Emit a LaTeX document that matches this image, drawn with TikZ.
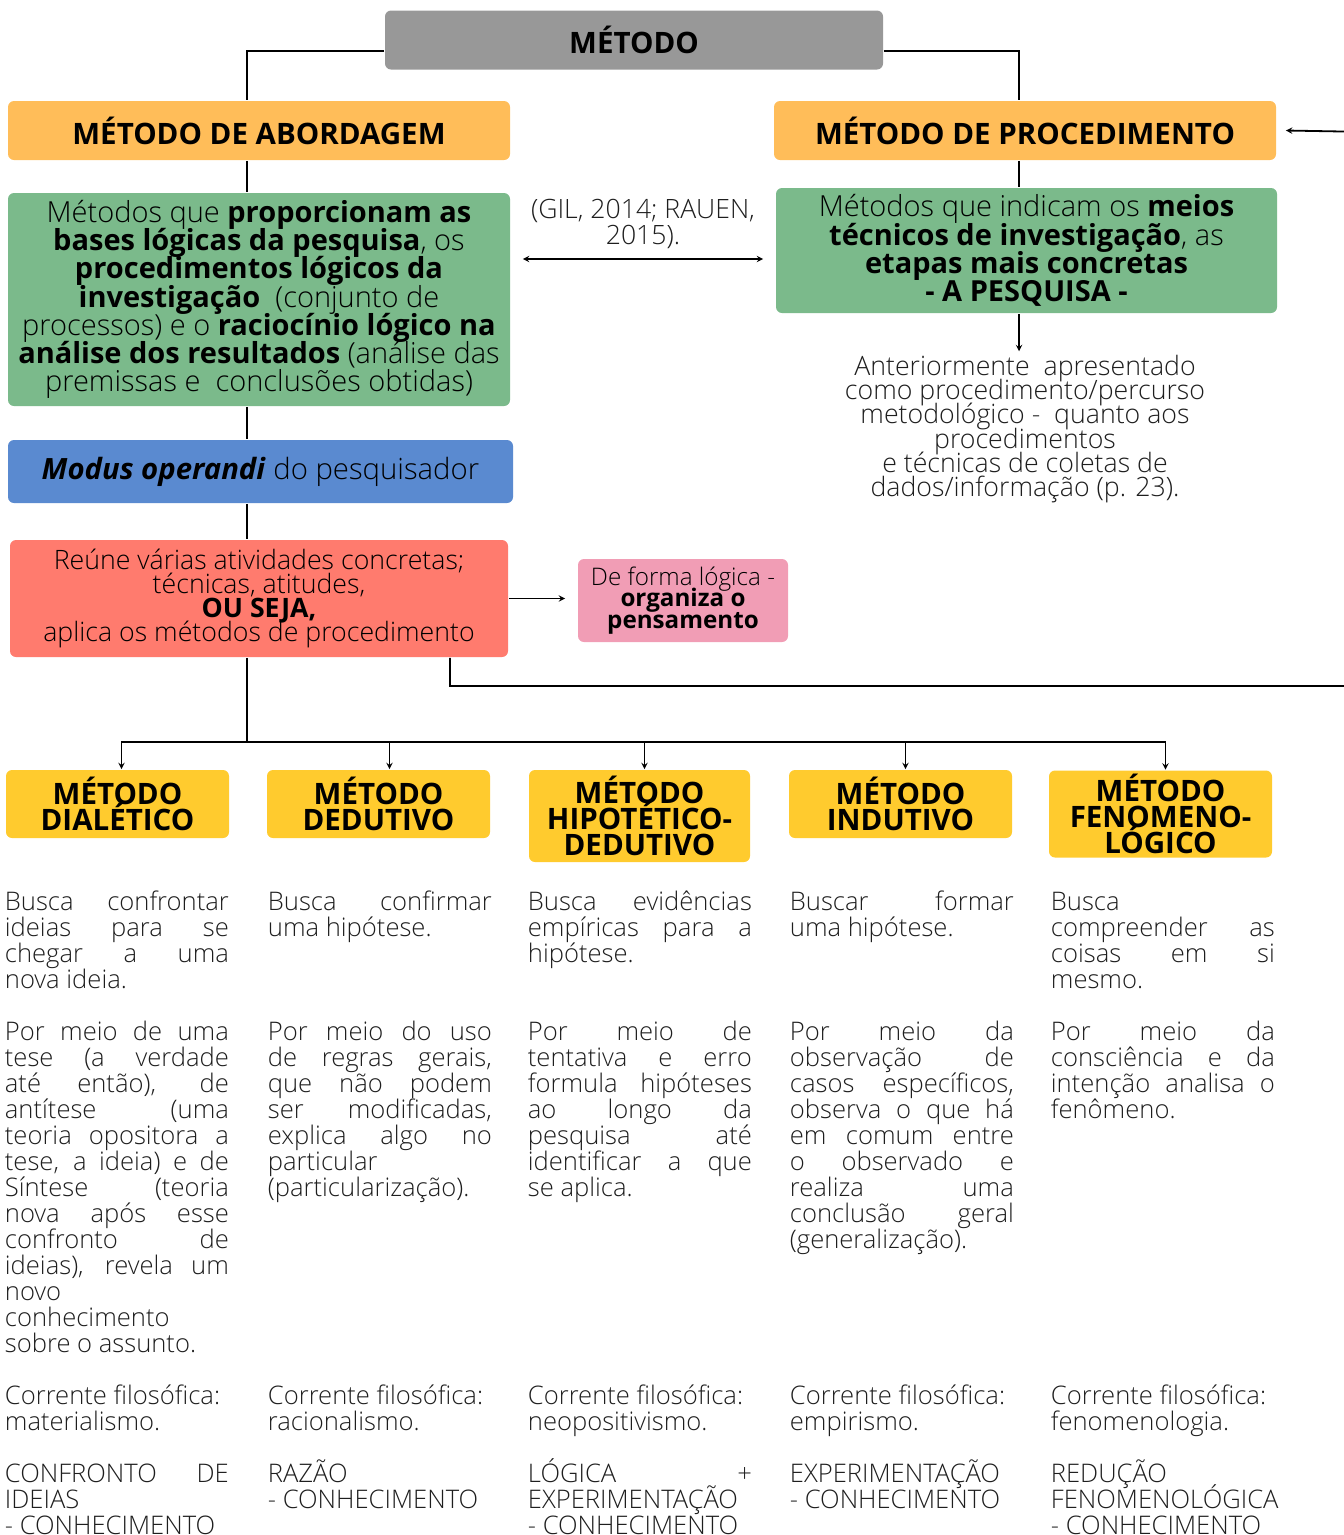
\documentclass[tikz,border=0pt]{standalone}
\usepackage{fontspec}
\IfFontExistsTF{Open Sans Light}{%
  \setmainfont{Open Sans Light}[BoldFont=Open Sans Bold,
    ItalicFont=Open Sans Light Italic, BoldItalicFont=Open Sans Bold Italic]}{%
  \setmainfont{Open Sans}}
\definecolor{cinza}{HTML}{989898}
\definecolor{laranja}{HTML}{FFBD59}
\definecolor{verde}{HTML}{7BBA8B}
\definecolor{azul}{HTML}{5A8AD0}
\definecolor{salmao}{HTML}{FF7B6E}
\definecolor{rosa}{HTML}{F19DB5}
\definecolor{amarelo}{HTML}{FFCB2E}
\definecolor{texto}{HTML}{1E1E1E}
\hyphenpenalty=10000\relax
\exhyphenpenalty=10000\relax
\tolerance=10000\relax
\lineskiplimit=-100pt\relax
\normallineskiplimit=-100pt\relax

\begin{document}
\begin{tikzpicture}[>=stealth, x=1pt, y=-1pt, line width=1.8pt,
  caixa/.style={rounded corners=6pt, inner sep=0pt, align=center, text=black},
  titulo/.style={font=\fontsize{29.5}{26}\selectfont\bfseries},
  coluna/.style={anchor=base west, text width=224pt, align=justify, inner sep=0pt, text=texto,
    font=\fontsize{25.6}{26}\selectfont}]
\useasboundingbox (0,0) rectangle (1344,1535);

% --- Topo ---
\node[caixa, fill=cinza, minimum width=498pt, minimum height=59pt, titulo] (met) at (634,40) {MÉTODO};
\node[caixa, fill=laranja, minimum width=502pt, minimum height=59pt, titulo] (abord) at (259,130.5) {MÉTODO DE ABORDAGEM};
\node[caixa, fill=laranja, minimum width=502pt, minimum height=59pt, titulo] (proc) at (1025,130.5) {MÉTODO DE PROCEDIMENTO};

\coordinate (trunk) at (247,0);
\coordinate (ptrunk) at (1019,0);
\draw ([yshift=-11pt]met.west) -| (abord.north -| trunk);
\draw ([yshift=-11pt]met.east) -| (proc.north -| ptrunk);

% --- Abordagem ---
\node[caixa, fill=verde, minimum width=502pt, minimum height=213pt, font=\fontsize{29}{28.2}\selectfont] (abtxt) at (259,299.5)
  {Métodos que \textbf{proporcionam as}\\
   \textbf{bases lógicas da pesquisa}, os\\
   \textbf{procedimentos lógicos da}\\
   \textbf{investigação}\ \ (conjunto de\\
   processos) e o \textbf{raciocínio lógico na}\\
   \textbf{análise dos resultados} (análise das\\
   premissas e\ \ conclusões obtidas)};
\node[caixa, fill=azul, minimum width=505pt, minimum height=63pt, font=\fontsize{29.3}{30}\selectfont] (modus) at (260.5,471.5)
  {\textbf{\textit{Modus operandi}} do pesquisador};
\node[caixa, fill=salmao, minimum width=498pt, minimum height=117pt, font=\fontsize{26.7}{24.2}\selectfont] (reune) at (259,598.5)
  {Reúne várias atividades concretas;\\ técnicas, atitudes,\\ \textbf{OU SEJA,}\\ aplica os métodos de procedimento};
\node[caixa, fill=rosa, minimum width=210pt, minimum height=83pt, font=\fontsize{24.2}{21.5}\selectfont] (logica) at (683,600.5)
  {De forma lógica -\\ \textbf{organiza o}\\ \textbf{pensamento}};

\draw (abord.south -| trunk) -- (abtxt.north -| trunk);
\draw (abtxt.south -| trunk) -- (modus.north -| trunk);
\draw (modus.south -| trunk) -- (reune.north -| trunk);
\draw[->, shorten >=12pt] (reune.east) -- (reune.east -| logica.west);

% --- Procedimento ---
\node[caixa, fill=verde, minimum width=501pt, minimum height=125pt, font=\fontsize{29}{28.2}\selectfont] (proctxt) at (1026.5,250.5)
  {Métodos que indicam os \textbf{meios}\\
   \textbf{técnicos de investigação}, as\\
   \textbf{etapas mais concretas}\\
   \textbf{- A PESQUISA -}};
\node[align=center, inner sep=0pt, text=texto, font=\fontsize{26.7}{24.2}\selectfont] (ant) at (1025,429)
  {Anteriormente\ \ apresentado\\ como procedimento/percurso\\ metodológico -\ \ quanto aos\\ procedimentos\\ e técnicas de coletas de\\ dados/informação (p. 23).};
\node[align=center, inner sep=0pt, text=texto, font=\fontsize{26.6}{26}\selectfont] (gil) at (643,224)
  {(GIL, 2014; RAUEN,\\ 2015).};

\draw (proc.south -| ptrunk) -- (proctxt.north -| ptrunk);
\draw[->, shorten >=3pt] (proctxt.south -| ptrunk) -- (ant.north -| ptrunk);
\draw[<->, shorten <=12pt, shorten >=12pt] (abtxt.east |- 0,259) -- (proctxt.west |- 0,259);

% --- Retorno ao procedimento ---
\coordinate (lp1) at (450,686);
\coordinate (lp2) at (1370,686);
\coordinate (lp3) at (1370,132);
\draw[->] (reune.south -| lp1) -- (lp1) -- (lp2) -- (lp3) -- ([xshift=9pt]proc.east);

% --- Metodos ---
\node[caixa, fill=amarelo, minimum width=223pt, minimum height=68pt, titulo] (dial) at (117.5,804) {MÉTODO\\ DIALÉTICO};
\node[caixa, fill=amarelo, minimum width=223pt, minimum height=68pt, titulo] (ded) at (378.5,804) {MÉTODO\\ DEDUTIVO};
\node[caixa, fill=amarelo, minimum width=221pt, minimum height=92pt, titulo] (hip) at (639.5,816) {MÉTODO\\ HIPOTÉTICO-\\ DEDUTIVO};
\node[caixa, fill=amarelo, minimum width=223pt, minimum height=68pt, titulo] (ind) at (900.5,804) {MÉTODO\\ INDUTIVO};
\node[caixa, fill=amarelo, minimum width=223pt, minimum height=87pt, titulo] (fen) at (1160.5,814) {MÉTODO\\ FENOMENO-\\ LÓGICO};

\coordinate (bus) at (247,742);
\draw (reune.south -| trunk) -- (bus);
\foreach \m/\dx in {dial/4,ded/11,hip/5,ind/5,fen/5}
  \draw[->] (bus) -| ([xshift=\dx pt]\m.north);

% --- Colunas ---
\node[coluna] (d1) at (4,910) {Busca confrontar\linebreak ideias para se\linebreak chegar a uma\linebreak nova ideia.};
\node[coluna] (d2) at (4,1040) {Por meio de uma\linebreak tese (a verdade\linebreak até então), de\linebreak antítese (uma\linebreak teoria opositora a\linebreak tese, a ideia) e de\linebreak Síntese (teoria\linebreak nova após esse\linebreak confronto de\linebreak ideias), revela um\linebreak novo\\ conhecimento\\ sobre o assunto.};
\node[coluna] (d3) at (4,1404) {Corrente filosófica:\\ materialismo.};
\node[coluna] (d4) at (4,1482) {CONFRONTO DE\linebreak IDEIAS\\ - CONHECIMENTO};

\node[coluna] (e1) at (267,910) {Busca confirmar\linebreak uma hipótese.};
\node[coluna] (e2) at (267,1040) {Por meio do uso\linebreak de regras gerais,\linebreak que não podem\linebreak ser modificadas,\linebreak explica algo no\linebreak particular\\ (particularização).};
\node[coluna] (e3) at (267,1404) {Corrente filosófica:\\ racionalismo.};
\node[coluna] (e4) at (267,1482) {RAZÃO\\ - CONHECIMENTO};

\node[coluna] (h1) at (527,910) {Busca evidências\linebreak empíricas para a\linebreak hipótese.};
\node[coluna] (h2) at (527,1040) {Por meio de\linebreak tentativa e erro\linebreak formula hipóteses\linebreak ao longo da\linebreak pesquisa até\linebreak identificar a que\linebreak se aplica.};
\node[coluna] (h3) at (527,1404) {Corrente filosófica:\\ neopositivismo.};
\node[coluna] (h4) at (527,1482) {LÓGICA +\linebreak EXPERIMENTAÇÃO\\ - CONHECIMENTO};

\node[coluna] (i1) at (789,910) {Buscar formar\linebreak uma hipótese.};
\node[coluna] (i2) at (789,1040) {Por meio da\linebreak observação de\linebreak casos específicos,\linebreak observa o que há\linebreak em comum entre\linebreak o observado e\linebreak realiza uma\linebreak conclusão geral\linebreak (generalização).};
\node[coluna] (i3) at (789,1404) {Corrente filosófica:\\ empirismo.};
\node[coluna] (i4) at (789,1482) {EXPERIMENTAÇÃO\\ - CONHECIMENTO};

\node[coluna] (f1) at (1050,910) {Busca\\ compreender as\linebreak coisas em si\linebreak mesmo.};
\node[coluna] (f2) at (1050,1040) {Por meio da\linebreak consciência e da\linebreak intenção analisa o\linebreak fenômeno.};
\node[coluna] (f3) at (1050,1404) {Corrente filosófica:\\ fenomenologia.};
\node[coluna] (f4) at (1050,1482) {REDUÇÃO\\ FENOMENOLÓGICA\\ - CONHECIMENTO};

\end{tikzpicture}
\end{document}
